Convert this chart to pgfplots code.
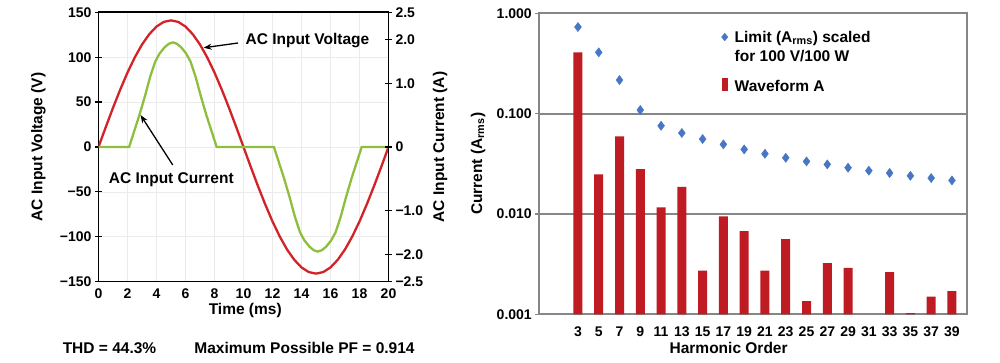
\documentclass[border=0pt]{standalone}
\usepackage{fontspec}
\setmainfont{Liberation Sans}
\usepackage{pgfplots}
\pgfplotsset{compat=1.18}
\usetikzlibrary{arrows.meta}
\definecolor{vred}{RGB}{210,35,40}
\definecolor{igreen}{RGB}{141,190,62}
\definecolor{barred}{RGB}{190,28,34}
\definecolor{limblue}{RGB}{70,118,196}
\definecolor{framegray}{RGB}{134,134,134}
\newcommand\fL{\fontsize{15.5}{19}\selectfont\bfseries}
\newcommand\fT{\fontsize{14}{16}\selectfont\bfseries}
\begin{document}
\begin{tikzpicture}
\useasboundingbox (0,0) rectangle (1000pt,363pt);
% ---------------- left chart ----------------
\begin{axis}[
  at={(98.5pt,81.3pt)}, anchor=south west,
  scale only axis, width=290pt, height=269.4pt,
  xmin=0, xmax=20, ymin=-150, ymax=150,
  xtick={0,2,...,20},
  xticklabels={0,2,4,6,8,10,12,14,16,18,20},
  ytick={-150,-100,-50,0,50,100,150},
  yticklabels={−150,−100,−50,0,50,100,150},
  ytick pos=left, xtick pos=bottom,
  tick align=center, major tick length=7pt,
  xtick style={draw=none},
  ytick style={black, line width=1.2pt},
  grid=major, major grid style={black!8, line width=0.6pt},
  axis line style={black, line width=1.6pt},
  tick label style={font=\fT},
  label style={font=\fL},
  xlabel={Time (ms)}, ylabel={AC Input Voltage (V)},
  xlabel style={at={(axis description cs:0.506,-0.1076)}, anchor=center},
  ylabel style={at={(axis description cs:-0.2076,0.5)}, anchor=center},
]
\addplot[vred, line width=2.3pt] coordinates {
(0,0) (0.5,22.1) (1,43.6) (1.5,64.0) (2,82.9) (2.5,99.7) (3,114.1) (3.5,125.6) (4,134.1) (4.5,139.3) (5,141)
(5.5,139.3) (6,134.1) (6.5,125.6) (7,114.1) (7.5,99.7) (8,82.9) (8.5,64.0) (9,43.6) (9.5,22.1) (10,0)
(10.5,-22.1) (11,-43.6) (11.5,-64.0) (12,-82.9) (12.5,-99.7) (13,-114.1) (13.5,-125.6) (14,-134.1) (14.5,-139.3) (15,-141)
(15.5,-139.3) (16,-134.1) (16.5,-125.6) (17,-114.1) (17.5,-99.7) (18,-82.9) (18.5,-64.0) (19,-43.6) (19.5,-22.1) (20,0)
};
\addplot[igreen, line width=2.3pt] coordinates {
(0,0) (2.11,0) (2.51,20) (2.81,35) (3.21,57) (3.56,78) (3.91,95) (4.21,104) (4.56,111) (4.86,115) (5.13,116.5)
(5.4,115) (5.7,111) (6.05,104) (6.35,95) (6.7,78) (7.05,57) (7.45,35) (7.75,20) (8.15,0)
(12.1,0) (12.5,-20) (12.8,-35) (13.2,-57) (13.55,-78) (13.9,-95) (14.2,-104) (14.55,-111) (14.85,-115) (15.12,-116.5)
(15.4,-115) (15.7,-111) (16.05,-104) (16.35,-95) (16.7,-78) (17.05,-57) (17.45,-35) (17.75,-20) (18.15,0) (20,0)
};
\draw[-{Stealth[length=8pt,width=6pt]}, line width=1.3pt] (axis cs:9.62,115.8) -- (axis cs:7.25,110.5);
\node[anchor=west, inner sep=0pt, font=\fL] at (axis cs:10.13,118.4) {AC Input Voltage};
\draw[-{Stealth[length=8pt,width=6pt]}, line width=1.3pt] (axis cs:5.12,-20) -- (axis cs:2.9,35.6);
\node[anchor=west, inner sep=0pt, font=\fL] at (axis cs:0.70,-36.7) {AC Input Current};
\end{axis}
\begin{axis}[
  at={(98.5pt,81.3pt)}, anchor=south west,
  scale only axis, width=290pt, height=269.4pt,
  xmin=0, xmax=20, ymin=-150, ymax=150,
  axis x line=none, axis y line*=right,
  ytick={-150,-120,-70.5,0,70.5,120,150},
  yticklabels={−2.5,−2.0,−1.0,0,1.0,2.0,2.5},
  tick align=center, major tick length=7pt,
  ytick style={black, line width=1.2pt},
  axis line style={black, line width=1.6pt},
  tick label style={font=\fT},
  label style={font=\fL},
  ylabel={AC Input Current (A)},
  ylabel style={at={(axis description cs:1.1776,0.5)}, anchor=center},
]
\addplot[draw=none] coordinates {(0,0)};
\end{axis}
\node[font=\fL] at (109.5pt,15pt) {THD = 44.3\%};
\node[font=\fL] at (304.5pt,15pt) {Maximum Possible PF = 0.914};
% ---------------- right chart ----------------
\begin{axis}[
  at={(539.3pt,48.7pt)}, anchor=south west,
  scale only axis, width=427.4pt, height=301pt,
  ymode=log, ymin=0.001, ymax=1, log origin y=infty,
  xmin=-0.72, xmax=40.42,
  xtick={3,5,...,39},
  xticklabels={3,5,7,9,11,13,15,17,19,21,23,25,27,29,31,33,35,37,39},
  ytick={0.001,0.01,0.1,1},
  yticklabels={0.001,0.010,0.100,1.000},
  yminorticks=false,
  ytick pos=left,
  xtick style={draw=none},
  tick align=outside, major tick length=4pt,
  ytick style={framegray, line width=1.5pt},
  axis line style={framegray, line width=1.8pt},
  ymajorgrids, major grid style={framegray, line width=1.8pt},
  tick label style={font=\fT},
  xticklabel style={yshift=-5pt},
  label style={font=\fL},
  xlabel={Harmonic Order}, ylabel={Current (A\textsubscript{rms})},
  xlabel style={at={(axis description cs:0.443,-0.112)}, anchor=center},
  ylabel style={at={(axis description cs:-0.1434,0.5)}, anchor=center},
  legend style={at={(axis description cs:0.4228,0.951)}, anchor=north west,
    draw=none, fill=none, inner sep=0pt, font=\fL,
    nodes={inner sep=1pt, text depth=, text height=},
    cells={anchor=base west}, column sep=4.5pt, row sep=10pt},
]
\addplot[only marks, mark=diamond*, mark size=4.6pt, color=limblue,
  mark options={fill=limblue, draw=limblue},
  legend image code/.code={\path[draw=none,fill=none] (0pt,-1pt) rectangle (9pt,12pt); \path[draw=none,fill=limblue] (4.5pt,1.3pt) -- (7.95pt,5.5pt) -- (4.5pt,9.7pt) -- (1.05pt,5.5pt) -- cycle;}]
  coordinates {
(3,0.730) (5,0.408) (7,0.216) (9,0.1086) (11,0.0757) (13,0.0641) (15,0.0558) (17,0.0494) (19,0.0440) (21,0.0398)
(23,0.0363) (25,0.0334) (27,0.0312) (29,0.0289) (31,0.0270) (33,0.0256) (35,0.0240) (37,0.0228) (39,0.0216)
};
\addlegendentry{\begin{tabular}[t]{@{}l@{}}Limit (A\textsubscript{rms}) scaled\\for 100 V/100 W\end{tabular}}
\addplot[ybar, bar width=9pt, fill=barred, draw=none,
  legend image code/.code={\path[draw=none,fill=none] (0pt,-1pt) rectangle (9pt,12pt); \path[draw=none,fill=barred] (1.7pt,0pt) rectangle (7.3pt,13pt);}]
  coordinates {
(3,0.408) (5,0.0248) (7,0.0594) (9,0.0280) (11,0.01164) (13,0.01867) (15,0.00272) (17,0.00946) (19,0.00676) (21,0.00272)
(23,0.00562) (25,0.00135) (27,0.00324) (29,0.00291) (33,0.00263) (35,0.00103) (37,0.0015) (39,0.0017)
};
\addlegendentry{Waveform A}
\end{axis}
\end{tikzpicture}
\end{document}
